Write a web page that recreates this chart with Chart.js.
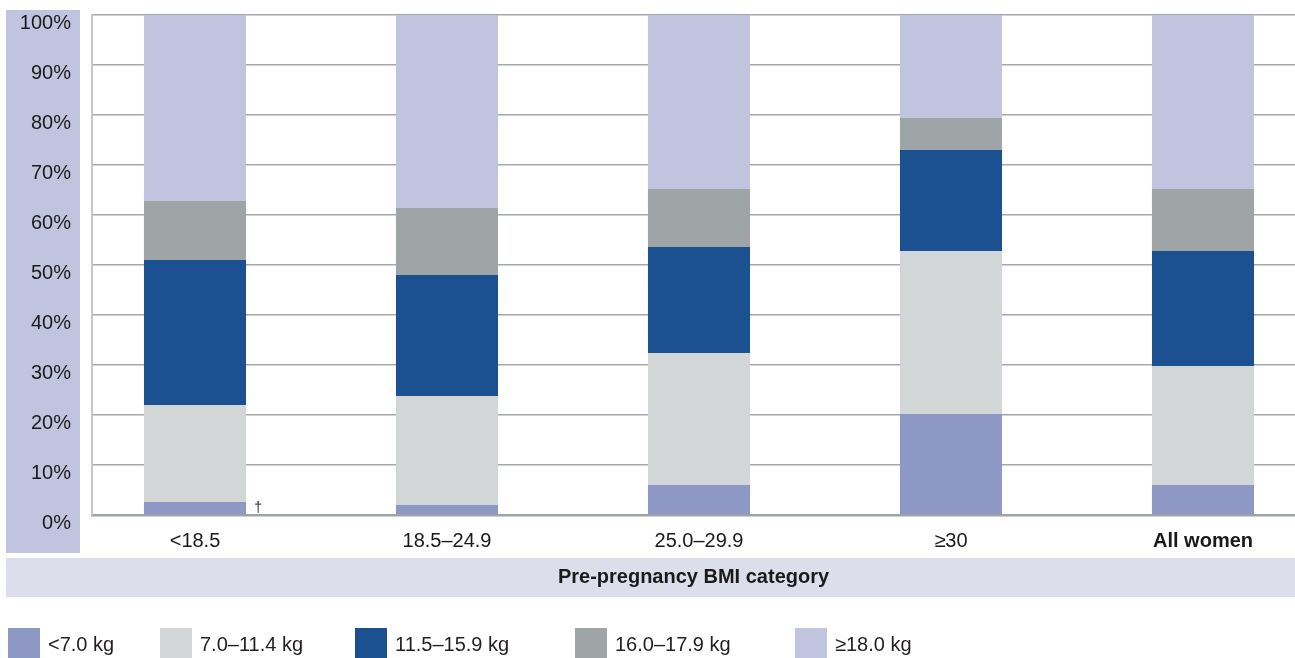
<!DOCTYPE html>
<html>
<head>
<meta charset="utf-8">
<script src="https://cdn.jsdelivr.net/npm/chart.js@4.4.1/dist/chart.umd.min.js"></script>
<style>
  html, body { margin: 0; padding: 0; background: #ffffff; }
  #wrap { width: 1295px; height: 658px; position: relative; }
</style>
</head>
<body>
<div id="wrap"><canvas id="gainChart"></canvas></div>
<script>
// pre-pregnancy BMI categories
const categories = ['<18.5', '18.5–24.9', '25.0–29.9', '≥30', 'All women'];
const seriesNames = ['<7.0 kg', '7.0–11.4 kg', '11.5–15.9 kg', '16.0–17.9 kg', '≥18.0 kg'];

// share of women (%) in each weight-gain band
const under7 = [2.6, 2.0, 6.0, 20.2, 6.0];
const from7to11 = [19.4, 21.8, 26.4, 32.6, 23.8];
const from11to15 = [29.0, 24.2, 21.2, 20.2, 23.0];
const from16to17 = [11.8, 13.4, 11.6, 6.4, 12.4];
const over18 = [37.2, 38.6, 34.8, 20.6, 34.8];

const yTicks = [0, 10, 20, 30, 40, 50, 60, 70, 80, 90, 100];

const colors = ['#8e98c4', '#d2d6d7', '#1b5190', '#9fa4a7', '#c0c4df'];
const FONT = "'Liberation Sans', Arial, sans-serif";

const seriesValues = [under7, from7to11, from11to15, from16to17, over18];

// panels behind the axis labels + legend + footnote mark
const decorations = {
  id: 'decorations',
  beforeDraw(chart) {
    const ctx = chart.ctx;
    ctx.save();
    ctx.fillStyle = '#c0c4df';
    ctx.fillRect(6, 10, 74, 543);
    ctx.fillStyle = '#dcdeec';
    ctx.fillRect(6, 558, chart.width - 6, 39);
    ctx.restore();
  },
  afterDraw(chart) {
    const ctx = chart.ctx;
    ctx.save();
    // legend
    const boxX = [8, 160, 355, 575, 795];
    ctx.font = '20px ' + FONT;
    ctx.textBaseline = 'middle';
    chart.data.datasets.forEach((ds, i) => {
      ctx.fillStyle = ds.backgroundColor;
      ctx.fillRect(boxX[i], 628, 32, 32);
      ctx.fillStyle = '#231f20';
      ctx.fillText(ds.label, boxX[i] + 40, 645);
    });
    // dagger next to the smallest <18.5 value
    const bar = chart.getDatasetMeta(0).data[0];
    ctx.font = '14px ' + FONT;
    ctx.textAlign = 'center';
    ctx.textBaseline = 'alphabetic';
    ctx.fillStyle = '#231f20';
    ctx.fillText('†', bar.x + bar.width / 2 + 12, 512);
    ctx.restore();
  }
};

new Chart(document.getElementById('gainChart').getContext('2d'), {
  type: 'bar',
  data: {
    datasets: seriesNames.map((name, i) => ({
      label: name,
      data: seriesValues[i].map((v, j) => ({ x: j, y: v })),
      backgroundColor: colors[i],
      borderWidth: 0,
      categoryPercentage: 1,
      barPercentage: 0.405
    }))
  },
  options: {
    responsive: true,
    maintainAspectRatio: false,
    animation: false,
    layout: { padding: { top: 15, right: 0, bottom: 69, left: 0 } },
    plugins: {
      legend: { display: false },
      tooltip: { enabled: false }
    },
    scales: {
      x: {
        type: 'linear',
        stacked: true,
        offset: false,
        bounds: 'data',
        min: -103 / 252,
        max: 1100 / 252,
        afterBuildTicks: s => { s.ticks = categories.map((c, i) => ({ value: i })); },
        afterFit: s => { s.height = 74; s.paddingLeft = 0; s.paddingRight = 0; },
        grid: { display: false, drawTicks: false },
        border: { display: true, color: '#9ea4a4', width: 2.5 },
        ticks: {
          autoSkip: false,
          maxRotation: 0,
          padding: 14,
          color: '#1a1a1a',
          font: c => ({ family: FONT, size: 20, weight: c.index === categories.length - 1 ? 'bold' : 'normal' }),
          callback: v => categories[v]
        },
        title: {
          display: true,
          text: 'Pre-pregnancy BMI category',
          color: '#1a1a1a',
          font: { family: FONT, size: 20, weight: 'bold' },
          padding: { top: 12, bottom: 0 }
        }
      },
      y: {
        stacked: true,
        min: 0,
        max: 100,
        afterBuildTicks: s => { s.ticks = yTicks.map(v => ({ value: v })); },
        afterFit: s => { s.width = 92; s.paddingTop = 0; s.paddingBottom = 0; },
        grid: { color: '#a3a8ab', lineWidth: 1.5, drawTicks: false },
        border: { display: true, color: '#c5c9c9', width: 2 },
        ticks: {
          padding: 21,
          labelOffset: 8,
          color: '#1a1a1a',
          font: { family: FONT, size: 20 },
          callback: v => v + '%'
        }
      }
    }
  },
  plugins: [decorations]
});
</script>
</body>
</html>
